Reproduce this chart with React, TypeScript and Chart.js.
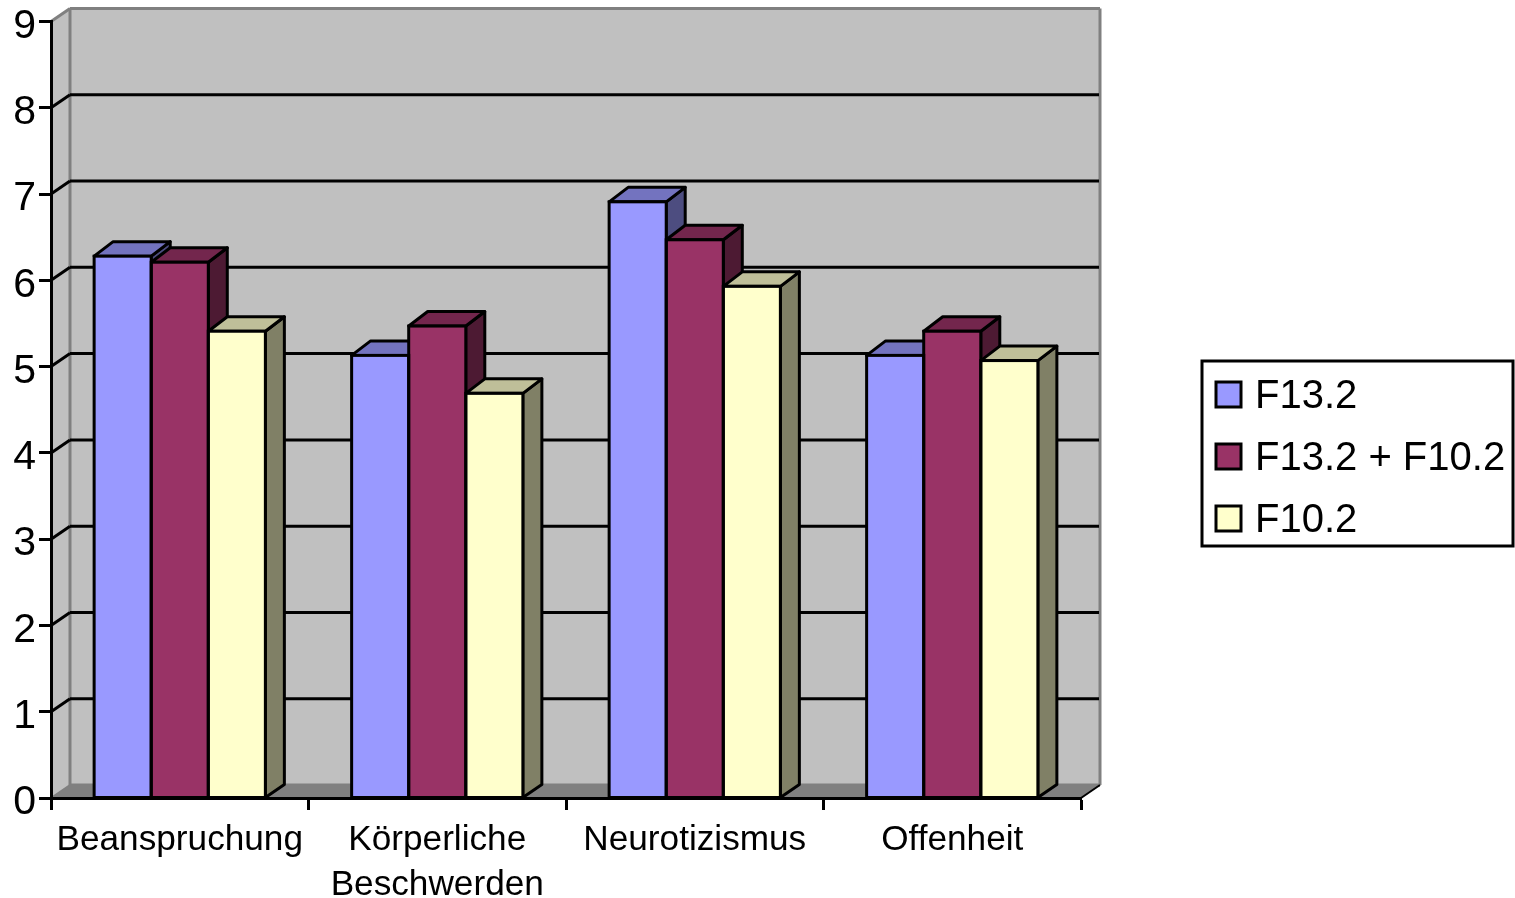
import React, { useEffect, useRef } from "react";
import { Chart, registerables } from "chart.js";

Chart.register(...registerables);

const categories = ["Beanspruchung", ["Körperliche", "Beschwerden"], "Neurotizismus", "Offenheit"];
const f132 = [6.28, 5.13, 6.91, 5.13];
const f132f102 = [6.21, 5.47, 6.47, 5.41];
const f102 = [5.41, 4.69, 5.93, 5.07];
const seriesNames = ["F13.2", "F13.2 + F10.2", "F10.2"];
const frontColors = ["#9999FF", "#993366", "#FFFFCC"];
const topColors = ["#7373BF", "#73264D", "#BFBF99"];
const sideColors = ["#4D4D80", "#4D1A33", "#808066"];

const DEPTH_X = 19;
const DEPTH_Y = 13;
const BAR_TOP_DEPTH_Y = 14.5;
const FONT = "'Liberation Sans', Arial, sans-serif";

function poly(ctx: CanvasRenderingContext2D, pts: number[][], fill: string | null, stroke: string | null, lw = 3) {
  ctx.beginPath();
  pts.forEach(([x, y], i) => (i ? ctx.lineTo(x, y) : ctx.moveTo(x, y)));
  ctx.closePath();
  if (fill) {
    ctx.fillStyle = fill;
    ctx.fill();
  }
  if (stroke) {
    ctx.strokeStyle = stroke;
    ctx.lineWidth = lw;
    ctx.lineJoin = "round";
    ctx.stroke();
  }
}

function line(ctx: CanvasRenderingContext2D, x1: number, y1: number, x2: number, y2: number, color: string, lw: number) {
  ctx.beginPath();
  ctx.moveTo(x1, y1);
  ctx.lineTo(x2, y2);
  ctx.strokeStyle = color;
  ctx.lineWidth = lw;
  ctx.stroke();
}

function barBox(bar: any) {
  const p = bar.getProps(["x", "y", "base", "width"], true);
  return { l: p.x - p.width / 2, r: p.x + p.width / 2, t: p.y, b: p.base };
}

// Walls, floor and wall grid lines go underneath the axes; bar depth faces go
// underneath the bar fronts; the bar outlines are shared between neighbours.
const plotBox = {
  id: "plotBox",
  beforeDraw(chart: any) {
    const { ctx, chartArea: a, scales } = chart;
    const y = scales.y;
    const dx = DEPTH_X;
    const dy = DEPTH_Y;
    ctx.save();
    poly(ctx, [[a.left, a.top], [a.left + dx, a.top - dy], [a.right + dx, a.top - dy], [a.right + dx, a.bottom - dy], [a.left + dx, a.bottom - dy], [a.left, a.bottom]], "#C0C0C0", null);
    poly(ctx, [[a.left, a.bottom], [a.left + dx, a.bottom - dy], [a.right + dx, a.bottom - dy], [a.right, a.bottom]], "#808080", null);
    line(ctx, a.left, a.top, a.left + dx, a.top - dy, "#808080", 3);
    line(ctx, a.left + dx, a.top - dy, a.right + dx, a.top - dy, "#808080", 3);
    line(ctx, a.right + dx, a.top - dy, a.right + dx, a.bottom - dy, "#808080", 3);
    line(ctx, a.left + dx, a.top - dy, a.left + dx, a.bottom - dy, "#808080", 3);
    line(ctx, a.left + dx, a.bottom - dy, a.right + dx, a.bottom - dy, "#808080", 3);
    line(ctx, a.left, a.bottom, a.left + dx, a.bottom - dy, "#808080", 2);
    y.ticks.forEach((t: any) => {
      if (t.value === 0 || t.value === 9) return;
      const py = y.getPixelForValue(t.value);
      line(ctx, a.left, py, a.left + dx, py - dy, "#000", 3);
      line(ctx, a.left + dx, py - dy, a.right + dx - 1, py - dy, "#000", 3);
    });
    ctx.restore();
  },
  beforeDatasetsDraw(chart: any) {
    const { ctx } = chart;
    const dx = DEPTH_X;
    const dy = BAR_TOP_DEPTH_Y;
    ctx.save();
    chart.data.datasets.forEach((_: any, di: number) => {
      chart.getDatasetMeta(di).data.forEach((bar: any) => {
        const { l, r, t, b } = barBox(bar);
        poly(ctx, [[r, t], [r + dx, t - dy], [r + dx, b - DEPTH_Y], [r, b]], sideColors[di], "#000");
        poly(ctx, [[l, t], [l + dx, t - dy], [r + dx, t - dy], [r, t]], topColors[di], "#000");
      });
    });
    ctx.restore();
  },
  afterDatasetsDraw(chart: any) {
    const { ctx, chartArea: a } = chart;
    ctx.save();
    chart.data.datasets.forEach((_: any, di: number) => {
      chart.getDatasetMeta(di).data.forEach((bar: any) => {
        const { l, r, t, b } = barBox(bar);
        ctx.strokeStyle = "#000";
        ctx.lineWidth = 3;
        ctx.strokeRect(l, t, r - l, b - t);
      });
    });
    line(ctx, a.right, a.bottom, a.right + DEPTH_X, a.bottom - DEPTH_Y, "#000", 2);
    ctx.restore();
  },
};

// Boxed legend to the right of the plot
const legendBox = {
  id: "legendBox",
  afterDraw(chart: any) {
    const { ctx } = chart;
    ctx.save();
    ctx.fillStyle = "#FFF";
    ctx.fillRect(1202, 361, 311, 185);
    ctx.strokeStyle = "#000";
    ctx.lineWidth = 3;
    ctx.strokeRect(1202, 361, 311, 185);
    ctx.font = `40px ${FONT}`;
    ctx.textAlign = "left";
    ctx.textBaseline = "middle";
    seriesNames.forEach((name, i) => {
      const cy = 395 + i * 62;
      ctx.fillStyle = frontColors[i];
      ctx.fillRect(1216, cy - 13, 25, 25);
      ctx.lineWidth = 3;
      ctx.strokeRect(1216, cy - 13, 25, 25);
      ctx.fillStyle = "#000";
      ctx.fillText(name, 1255, cy + 2);
    });
    ctx.restore();
  },
};

export default function App() {
  const ref = useRef<HTMLCanvasElement>(null);
  useEffect(() => {
    const seriesValues = [f132, f132f102, f102];
    const chart = new Chart(ref.current!, {
      type: "bar",
      data: {
        labels: categories as any,
        datasets: seriesNames.map((label, i) => ({
          label,
          data: seriesValues[i],
          backgroundColor: frontColors[i],
          borderWidth: 0,
          categoryPercentage: 0.665,
          barPercentage: 1,
        })),
      },
      options: {
        responsive: false,
        animation: false,
        layout: { padding: { top: 21.5, right: 434, left: 0, bottom: 0 } },
        plugins: { legend: { display: false }, tooltip: { enabled: false } },
        scales: {
          x: {
            afterFit: (s: any) => {
              s.height = 100;
              s.paddingLeft = 0;
              s.paddingRight = 0;
            },
            grid: { drawOnChartArea: false, tickLength: 12, tickColor: "#000", tickWidth: 3, offset: true },
            border: { color: "#000", width: 3 },
            ticks: {
              color: "#000",
              font: { family: FONT, size: 35.2, lineHeight: 1.3 },
              maxRotation: 0,
              autoSkip: false,
              padding: 7,
            },
          },
          y: {
            min: 0,
            max: 9,
            afterFit: (s: any) => {
              s.width = 51;
              s.paddingTop = 0;
              s.paddingBottom = 0;
            },
            grid: { drawOnChartArea: false, tickLength: 12, tickColor: "#000", tickWidth: 3 },
            border: { color: "#000", width: 3 },
            ticks: {
              stepSize: 1,
              color: "#000",
              font: { family: FONT, size: 41 },
              padding: 3,
              labelOffset: 5,
            },
          },
        },
      },
      plugins: [plotBox, legendBox],
    });
    return () => chart.destroy();
  }, []);
  return (
    <div style={{ position: "fixed", left: 0, top: 0, width: 1515, height: 898, background: "#fff" }}>
      <canvas ref={ref} width={1515} height={898} style={{ display: "block" }} />
    </div>
  );
}
